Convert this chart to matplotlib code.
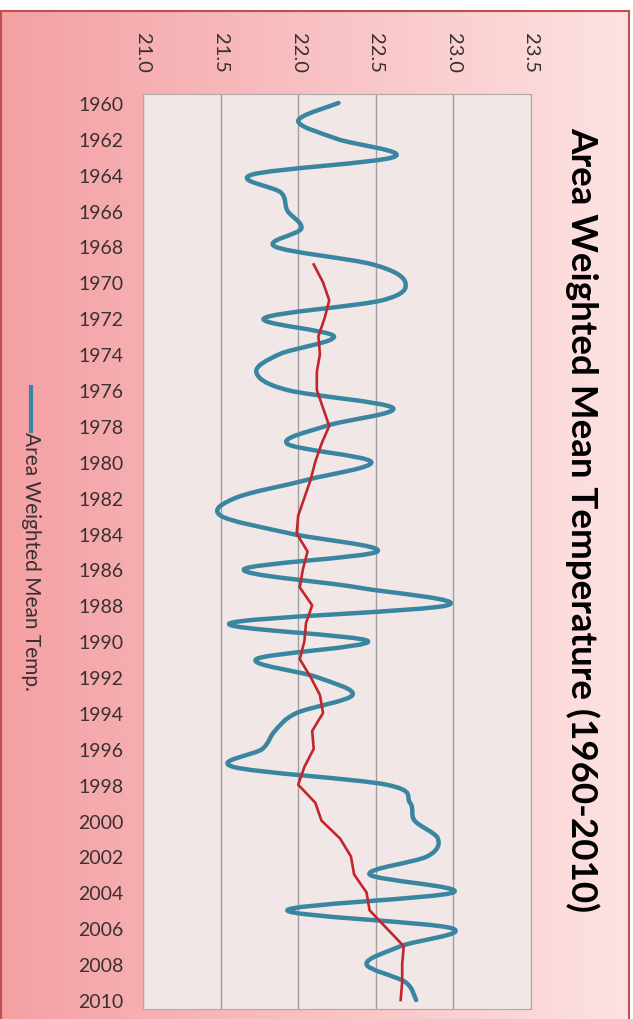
import numpy as np
import matplotlib.pyplot as plt
from matplotlib.path import Path
from matplotlib.patches import PathPatch, Rectangle
from matplotlib.lines import Line2D

# annual area weighted mean temperature (blue, smoothed line)
years = np.arange(1960, 2011)
temp = [22.26, 22.00, 22.25, 22.62, 21.70, 21.89, 21.93, 22.02, 21.85, 22.48,
        22.69, 22.54, 21.78, 22.23, 21.88, 21.73, 21.93, 22.61, 22.18, 21.93,
        22.47, 22.06, 21.60, 21.50, 21.95, 22.51, 21.65, 22.38, 22.96, 21.56,
        22.45, 21.73, 22.12, 22.35, 21.99, 21.85, 21.77, 21.58, 22.57, 22.72,
        22.75, 22.90, 22.83, 22.46, 23.00, 21.93, 22.99, 22.66, 22.44, 22.69,
        22.76]

# moving average trend (red)
trend_years = np.arange(1969, 2011)
trend = [22.10, 22.16, 22.20, 22.17, 22.13, 22.14, 22.12, 22.12, 22.16, 22.20,
         22.15, 22.11, 22.08, 22.04, 22.00, 21.99, 22.06, 22.03, 22.01, 22.09,
         22.05, 22.04, 22.01, 22.08, 22.14, 22.16, 22.09, 22.10, 22.04, 22.00,
         22.11, 22.15, 22.27, 22.34, 22.36, 22.44, 22.46, 22.57, 22.68, 22.67,
         22.67, 22.66]

temp_ticks = [21.0, 21.5, 22.0, 22.5, 23.0, 23.5]
year_ticks = np.arange(1960, 2011, 2)

title = 'Area Weighted Mean Temperature (1960-2010)'
legend_label = 'Area Weighted Mean Temp.'

BLUE = '#3a86a0'
RED = '#c3252c'
FONT = 'Lato'


def smooth_path(x, y):
    # Excel style smoothed line: cubic bezier segments through every point
    pts = np.column_stack([x, y])
    n = len(pts)
    verts = [pts[0]]
    codes = [Path.MOVETO]
    for i in range(n - 1):
        p0 = pts[max(i - 1, 0)]
        p1 = pts[i]
        p2 = pts[i + 1]
        p3 = pts[min(i + 2, n - 1)]
        c1 = p1 + (p2 - p0) / 6.0
        c2 = p2 - (p3 - p1) / 6.0
        verts += [c1, c2, p2]
        codes += [Path.CURVE4] * 3
    return Path(verts, codes)


fig = plt.figure(figsize=(6.33, 10.20), dpi=100)
fig.patch.set_facecolor('white')

# gradient chart area background
bg = fig.add_axes([0, 0, 1, 1], zorder=-10)
bg.set_xlim(0, 633)
bg.set_ylim(0, 1020)
bg.axis('off')
grad = np.linspace(0, 1, 256)[None, :]
left_c = np.array([244, 160, 163]) / 255
right_c = np.array([253, 226, 226]) / 255
img = left_c[None, None, :] * (1 - grad[..., None]) + right_c[None, None, :] * grad[..., None]
bg.imshow(img, extent=[1, 629, -5, 1008], aspect='auto')
bg.add_patch(Rectangle((1, -5), 628, 1013, fill=False, edgecolor='#c0504d', lw=1.5))

ax = fig.add_axes([143 / 633, 1 - 1010 / 1020, (531 - 143) / 633, (1010 - 95) / 1020])
ax.set_facecolor('#f1e7e7')

ax.add_patch(PathPatch(smooth_path(temp, years), fill=False, edgecolor=BLUE,
                       lw=3.2, capstyle='round', joinstyle='round', zorder=3))
ax.plot(trend, trend_years, color=RED, lw=1.9, zorder=4)

ax.set_xlim(21.0, 23.5)
ax.set_ylim(2010.5, 1959.5)
ax.set_xticks(temp_ticks)
ax.set_xticklabels(['%.1f' % t for t in temp_ticks], rotation=-90)
ax.set_yticks(year_ticks)
ax.set_yticklabels([str(y) for y in year_ticks])
ax.xaxis.tick_top()
ax.tick_params(axis='x', length=0, pad=16, labelsize=14.5, labelcolor='#3a3030')
ax.tick_params(axis='y', length=0, pad=14, labelsize=14, labelcolor='#3a3030')
for lab in ax.get_xticklabels() + ax.get_yticklabels():
    lab.set_family(FONT)
ax.grid(axis='x', color='#a0a0a0', lw=1.0)
ax.set_axisbelow(True)
for s in ax.spines.values():
    s.set_color('#b0a8a8')
    s.set_linewidth(0.8)

fig.text(583 / 633, 1 - 520 / 1020, title, rotation=-90, ha='center', va='center',
         fontsize=26.5, fontweight='bold', family=FONT, color='black')

# legend drawn by hand, rotated like the rest of the chart
fig.add_artist(Line2D([31 / 633, 31 / 633], [1 - 388 / 1020, 1 - 432 / 1020],
                      color=BLUE, lw=3.0, transform=fig.transFigure))
fig.text(31 / 633, 1 - 432 / 1020, legend_label, rotation=-90, ha='center', va='top',
         fontsize=15, family=FONT, color='#3a3030')

fig.savefig('out.png', dpi=100)
